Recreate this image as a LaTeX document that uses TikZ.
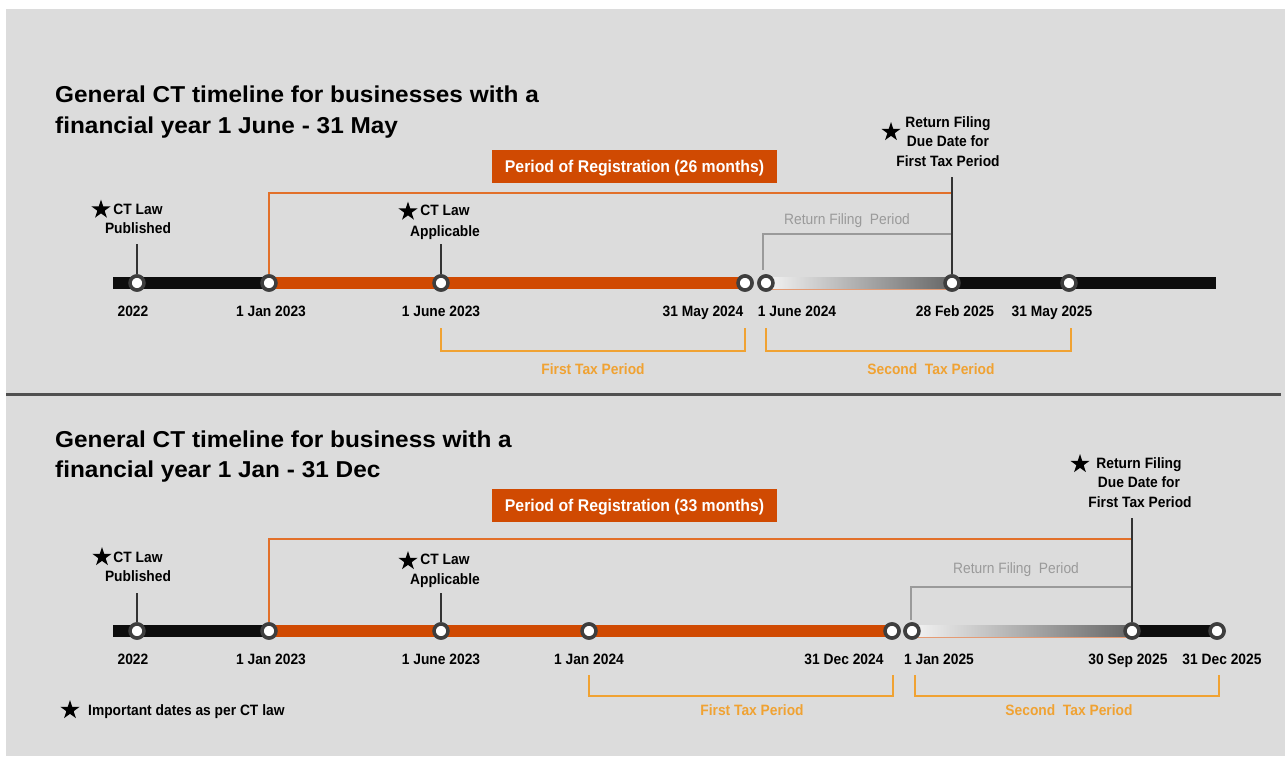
\documentclass[tikz,border=0pt]{standalone}
\usepackage{fontspec}
\setmainfont{Liberation Sans}
\newfontfamily\lblfont[FakeStretch=0.92]{Liberation Sans}
\newfontfamily\ttlfont[FakeStretch=1.06]{Liberation Sans}
\newfontfamily\boxfont[FakeStretch=0.93]{Liberation Sans}
\usetikzlibrary{shapes.geometric,calc}

\definecolor{panelgray}{HTML}{DCDCDC}
\definecolor{pwcorange}{HTML}{D04A02}
\definecolor{framecol}{HTML}{E2702A}
\definecolor{taxcol}{HTML}{F0A232}
\definecolor{ringcol}{HTML}{3E3E3E}
\definecolor{rfpgray}{HTML}{9A9A9A}
\definecolor{sepgray}{HTML}{505050}
\definecolor{gradleft}{HTML}{F4F4F4}
\definecolor{gradright}{HTML}{666666}

\begin{document}
\begin{tikzpicture}[x=1pt,y=-1pt,
  dot/.style={circle, draw=ringcol, line width=3.5pt, fill=white, minimum size=14pt, inner sep=0pt},
  barblack/.style={line width=12pt, draw=black!95},
  barorange/.style={line width=12pt, draw=pwcorange},
  gradbar/.style={left color=gradleft, right color=gradright},
  gradedge/.style={draw=pwcorange!55, line width=0.8pt},
  tickline/.style={draw=black!80, line width=1.2pt},
  regline/.style={draw=framecol, line width=2pt},
  rfpline/.style={draw=rfpgray, line width=1.6pt},
  taxline/.style={draw=taxcol, line width=2pt},
  datelbl/.style={font=\lblfont\bfseries\fontsize{15}{18}\selectfont, inner sep=0pt, text height=11pt, text depth=0pt},
  rfptext/.style={font=\lblfont\fontsize{15}{18}\selectfont, text=rfpgray, inner sep=0pt, text height=11pt, text depth=0pt},
  taxtext/.style={datelbl, text=taxcol},
  ttl/.style={font=\ttlfont\bfseries\fontsize{23}{28}\selectfont, anchor=west, inner sep=0pt, text height=16.5pt, text depth=0pt},
  regbox/.style={fill=pwcorange, text=white, font=\boxfont\bfseries\fontsize{17}{20}\selectfont, minimum width=285pt, minimum height=33pt, inner sep=0pt, text height=12.2pt, text depth=0pt},
  starmark/.style={star, star points=5, star point ratio=2.6, fill=black, inner sep=0pt, minimum size=20pt}]

% canvas
\useasboundingbox (0,0) rectangle (1285,756);
\fill[white] (0,0) rectangle (1285,756);
\fill[panelgray] (6,9) rectangle (1285,756);

% divider between the two timelines
\coordinate (sepL) at (6,394);
\coordinate (sepR) at (1281,394);
\draw[sepgray, line width=3pt] (sepL) -- (sepR);

% ================= financial year 1 June - 31 May =================
\node[ttl] (t1a) at (55,94.5) {General CT timeline for businesses with a};
\node[ttl] (t1b) at (55,125) {financial year 1 June - 31 May};
\node[regbox] (reg1) at (634.5,166.5) {Period of Registration (26 months)};

% timeline markers
\node[dot] (a1) at (137,283) {};
\node[dot] (a2) at (269,283) {};
\node[dot] (a3) at (441,283) {};
\node[dot] (a4) at (745,283) {};
\node[dot] (a5) at (766,283) {};
\node[dot] (a6) at (952,283) {};
\node[dot] (a7) at (1069,283) {};
\coordinate (aS) at (113,283);
\coordinate (aE) at (1216,283);

% bar segments
\draw[barblack] (aS) -- (a2.center);
\draw[barorange] (a2.center) -- (a4.center);
\shade[gradbar] ($(a5.center)+(0,-6)$) rectangle ($(a6.center)+(0,6)$);
\draw[gradedge] ($(a5.center)+(0,6)$) -- ($(a6.center)+(0,6)$);
\draw[barblack] (a6.center) -- (aE);

% registration frame
\coordinate (ar1) at (269,193);
\coordinate (ar2) at (952,193);
\draw[regline] (a2) -- (ar1) -- (ar2) -- (a6);

% return filing period
\coordinate (af1) at (763,270);
\coordinate (af2) at (763,234);
\coordinate (af3) at (952,234);
\draw[rfpline] (af1) -- (af2) -- (af3);
\node[rfptext] (rfp1) at (847,219) {Return Filing\ \ Period};

% ticks to starred dates
\coordinate (at1) at (137,244);
\coordinate (at3) at (441,244);
\coordinate (at6) at (952,177);
\draw[tickline] (at1) -- (a1);
\draw[tickline] (at3) -- (a3);
\draw[tickline] (at6) -- (a6);

% redraw markers on top of the bars
\foreach \n in {a1,a2,a3,a4,a5,a6,a7}{\node[dot] at (\n) {};}

% tax period brackets
\coordinate (ta1) at (441,328);
\coordinate (ta2) at (441,351);
\coordinate (ta3) at (745,351);
\coordinate (ta4) at (745,328);
\draw[taxline] (ta1) -- (ta2) -- (ta3) -- (ta4);
\node[taxtext] (ftp1) at (593,369) {First Tax Period};
\coordinate (tb1) at (766,328);
\coordinate (tb2) at (766,351);
\coordinate (tb3) at (1071,351);
\coordinate (tb4) at (1071,328);
\draw[taxline] (tb1) -- (tb2) -- (tb3) -- (tb4);
\node[taxtext] (stp1) at (931,369) {Second\ \ Tax Period};

% date labels
\node[datelbl] (d1a) at (133,310.5) {2022};
\node[datelbl] (d1b) at (271,310.5) {1 Jan 2023};
\node[datelbl] (d1c) at (441,310.5) {1 June 2023};
\node[datelbl] (d1d) at (703,310.5) {31 May 2024};
\node[datelbl] (d1e) at (797,310.5) {1 June 2024};
\node[datelbl] (d1f) at (955,310.5) {28 Feb 2025};
\node[datelbl] (d1g) at (1052,310.5) {31 May 2025};

% starred notes
\node[starmark] (s1a) at (101,209.5) {};
\node[datelbl] (n1a) at (138,208.5) {CT Law};
\node[datelbl] (n1b) at (138,228) {Published};
\node[starmark] (s1b) at (408,211.5) {};
\node[datelbl] (n1c) at (445,210) {CT Law};
\node[datelbl] (n1d) at (445,230.5) {Applicable};
\node[starmark] (s1c) at (891,132) {};
\node[datelbl] (n1e) at (948,122) {Return Filing};
\node[datelbl] (n1f) at (948,141) {Due Date for};
\node[datelbl] (n1g) at (948,161) {First Tax Period};

% ================= financial year 1 Jan - 31 Dec =================
\node[ttl] (t2a) at (55,439) {General CT timeline for business with a};
\node[ttl] (t2b) at (55,469) {financial year 1 Jan - 31 Dec};
\node[regbox] (reg2) at (634.5,505) {Period of Registration (33 months)};

\node[dot] (b1) at (137,631) {};
\node[dot] (b2) at (269,631) {};
\node[dot] (b3) at (441,631) {};
\node[dot] (b4) at (589,631) {};
\node[dot] (b5) at (892,631) {};
\node[dot] (b6) at (912,631) {};
\node[dot] (b7) at (1132,631) {};
\node[dot] (b8) at (1217,631) {};
\coordinate (bS) at (113,631);

\draw[barblack] (bS) -- (b2.center);
\draw[barorange] (b2.center) -- (b5.center);
\shade[gradbar] ($(b6.center)+(0,-6)$) rectangle ($(b7.center)+(0,6)$);
\draw[gradedge] ($(b6.center)+(0,6)$) -- ($(b7.center)+(0,6)$);
\draw[barblack] (b7.center) -- (b8.center);

\coordinate (br1) at (269,539);
\coordinate (br2) at (1132,539);
\draw[regline] (b2) -- (br1) -- (br2) -- (b7);

\coordinate (bf1) at (911,620);
\coordinate (bf2) at (911,587);
\coordinate (bf3) at (1132,587);
\draw[rfpline] (bf1) -- (bf2) -- (bf3);
\node[rfptext] (rfp2) at (1016,568) {Return Filing\ \ Period};

\coordinate (bt1) at (137,593);
\coordinate (bt3) at (441,593);
\coordinate (bt7) at (1132,518);
\draw[tickline] (bt1) -- (b1);
\draw[tickline] (bt3) -- (b3);
\draw[tickline] (bt7) -- (b7);

\foreach \n in {b1,b2,b3,b4,b5,b6,b7,b8}{\node[dot] at (\n) {};}

\coordinate (tc1) at (589,675);
\coordinate (tc2) at (589,696);
\coordinate (tc3) at (893,696);
\coordinate (tc4) at (893,675);
\draw[taxline] (tc1) -- (tc2) -- (tc3) -- (tc4);
\node[taxtext] (ftp2) at (752,710) {First Tax Period};
\coordinate (td1) at (915,675);
\coordinate (td2) at (915,696);
\coordinate (td3) at (1219,696);
\coordinate (td4) at (1219,675);
\draw[taxline] (td1) -- (td2) -- (td3) -- (td4);
\node[taxtext] (stp2) at (1069,710) {Second\ \ Tax Period};

\node[datelbl] (d2a) at (133,659) {2022};
\node[datelbl] (d2b) at (271,659) {1 Jan 2023};
\node[datelbl] (d2c) at (441,659) {1 June 2023};
\node[datelbl] (d2d) at (589,659) {1 Jan 2024};
\node[datelbl] (d2e) at (844,659) {31 Dec 2024};
\node[datelbl] (d2f) at (939,659) {1 Jan 2025};
\node[datelbl] (d2g) at (1128,659) {30 Sep 2025};
\node[datelbl] (d2h) at (1222,659) {31 Dec 2025};

\node[starmark] (s2a) at (102,557) {};
\node[datelbl] (n2a) at (138,557) {CT Law};
\node[datelbl] (n2b) at (138,575.5) {Published};
\node[starmark] (s2b) at (408,561) {};
\node[datelbl] (n2c) at (445,558.5) {CT Law};
\node[datelbl] (n2d) at (445,579) {Applicable};
\node[starmark] (s2c) at (1080,464) {};
\node[datelbl] (n2e) at (1139,463) {Return Filing};
\node[datelbl] (n2f) at (1139,482) {Due Date for};
\node[datelbl] (n2g) at (1140,502) {First Tax Period};

% legend
\node[starmark] (lgs) at (70,710) {};
\node[datelbl, anchor=west] (lgt) at (88,710) {Important dates as per CT law};
\end{tikzpicture}
\end{document}
